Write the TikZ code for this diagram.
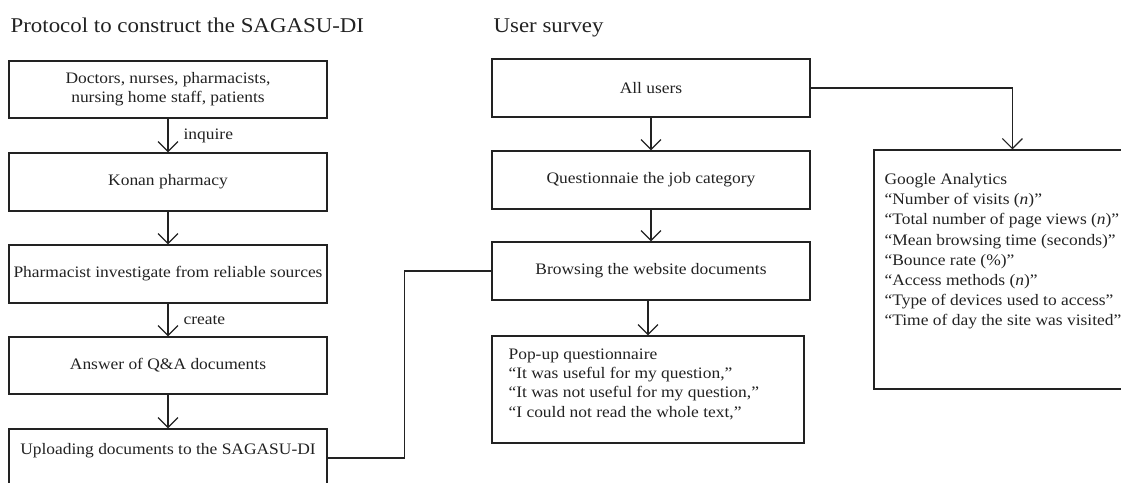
\documentclass[tikz,border=0pt]{standalone}
\usepackage{fontspec}
\setmainfont{Liberation Serif}[FakeStretch=1.09]
\usetikzlibrary{arrows.meta}
\definecolor{ink}{HTML}{222222}
\begin{document}
\begin{tikzpicture}[x=1pt, y=-1pt,
  line width=1.2pt, draw=ink, text=ink,
  box/.style={draw=ink, line width=1.2pt, minimum width=318pt, minimum height=58pt,
    inner sep=0pt, align=center, font=\fontsize{16}{19}\selectfont},
  heading/.style={anchor=base west, inner sep=0pt, font=\fontsize{21}{25}\selectfont},
  listtext/.style={anchor=north west, inner sep=0pt, align=left},
  edgelabel/.style={anchor=west, inner sep=0pt, xshift=15pt, font=\fontsize{16}{19}\selectfont},
  arr/.style={draw=ink, line width=1.2pt, -{Straight Barb[length=10pt, width=20pt]}}]

\useasboundingbox (0,0) rectangle (1121,482);
\clip (0,0) rectangle (1121,482);

% column headings
\node[heading] (h1) at (10,32) {Protocol to construct the SAGASU-DI};
\node[heading] (h2) at (493,32) {User survey};

% protocol column
\node[box, minimum height=57pt] (b1) at (168,89.5) {Doctors, nurses, pharmacists,\\nursing home staff, patients};
\node[box] (b2) at (168,182) {Konan pharmacy};
\node[box] (b3) at (168,274) {Pharmacist investigate from reliable sources};
\node[box, minimum height=57pt] (b4) at (168,365.5) {Answer of Q\&A documents};
\node[box] (b5) at (168,458) {};
\node[inner sep=0pt, font=\fontsize{16}{19}\selectfont] (b5t) at (168,451) {Uploading documents to the SAGASU-DI};

\draw[arr] (b1) -- node[edgelabel] {inquire} (b2);
\draw[arr] (b2) -- (b3);
\draw[arr] (b3) -- node[edgelabel] {create} (b4);
\draw[arr] (b4) -- (b5);

% survey column
\node[box] (r1) at (651,88) {All users};
\node[box] (r2) at (651,180) {Questionnaie the job category};
\node[box] (r3) at (651,271) {Browsing the website documents};
\node[box, minimum width=312pt, minimum height=107pt] (r4) at (648,389.5) {};
\node[listtext, font=\fontsize{16}{19.3}\selectfont] (r4t) at (508,348)
  {Pop-up questionnaire\\
   “It was useful for my question,”\\
   “It was not useful for my question,”\\
   “I could not read the whole text,”};

\node[box, minimum width=261pt, minimum height=239pt] (g) at (1004.5,269.5) {};
\node[listtext, font=\fontsize{16}{20.1}\selectfont] (gt) at (884,173)
  {Google Analytics\\
   “Number of visits (\textit{n})”\\
   “Total number of page views (\textit{n})”\\
   “Mean browsing time (seconds)”\\
   “Bounce rate (\%)”\\
   “Access methods (\textit{n})”\\
   “Type of devices used to access”\\
   “Time of day the site was visited”};
\coordinate (gin) at ([xshift=139pt]g.north west);

\draw[arr] (r1) -- (r2);
\draw[arr] (r2) -- (r3);
\draw[arr] (r3.south -| 648,0) -- (r4);
\draw[arr] (r1.east) -| (gin);

% uploaded documents feed the website
\draw (b5.east) -- ++(77,0) |- (r3.west);
\end{tikzpicture}
\end{document}
